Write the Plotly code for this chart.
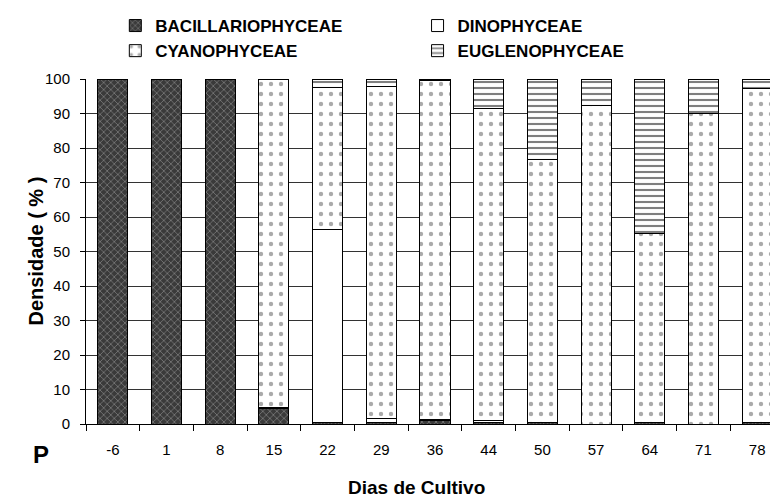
import plotly.graph_objects as go

# Dias de cultivo (eixo x)
dias = ["-6", "1", "8", "15", "22", "29", "36", "44", "50", "57", "64", "71", "78"]

# Densidade relativa (%) por classe
bacillariophyceae = [100, 100, 100, 4.5, 0.4, 0.3, 1.0, 0.3, 0.3, 0, 0.3, 0, 0.3]
dinophyceae = [0, 0, 0, 0.3, 55.9, 1.2, 0.2, 0.8, 0, 0, 0, 0, 0]
cyanophyceae = [0, 0, 0, 95.2, 41.3, 96.3, 98.3, 90.4, 76.4, 92.3, 54.8, 90.0, 97.0]
euglenophyceae = [0, 0, 0, 0, 2.4, 2.2, 0.5, 8.5, 23.3, 7.7, 44.9, 10.0, 2.7]

fonte = "Arial, Liberation Sans, sans-serif"
linha = dict(color="black", width=1)

fig = go.Figure()

fig.add_trace(go.Bar(
    name="BACILLARIOPHYCEAE", x=dias, y=bacillariophyceae,
    marker=dict(color="#3a3a3a", line=linha,
                pattern=dict(shape="x", fgcolor="#b5b5b5", bgcolor="#3a3a3a",
                             size=5, solidity=0.3)),
))
fig.add_trace(go.Bar(
    name="DINOPHYCEAE", x=dias, y=dinophyceae,
    marker=dict(color="white", line=linha),
))
fig.add_trace(go.Bar(
    name="CYANOPHYCEAE", x=dias, y=cyanophyceae,
    marker=dict(color="white", line=linha,
                pattern=dict(shape=".", fgcolor="#555", bgcolor="white",
                             size=10, solidity=0.15)),
))
fig.add_trace(go.Bar(
    name="EUGLENOPHYCEAE", x=dias, y=euglenophyceae,
    marker=dict(color="white", line=linha,
                pattern=dict(shape="-", fgcolor="black", bgcolor="white",
                             size=6, solidity=0.35)),
))

# a pagina tem margem de 8 px no body, por isso tudo vai 8 px para cima/esquerda
fig.update_layout(
    barmode="stack",
    bargap=0.44,
    width=778, height=499,
    margin=dict(l=78, r=2, t=71, b=83, autoexpand=False),
    paper_bgcolor="white",
    plot_bgcolor="white",
    font=dict(family=fonte, size=15, color="black"),
    legend=dict(
        orientation="h",
        x=0.042, y=1.0, xanchor="left", yanchor="top", yref="container",
        entrywidth=0.433, entrywidthmode="fraction",
        font=dict(size=17, weight="bold"),
        itemwidth=30,
        traceorder="normal",
        bgcolor="rgba(0,0,0,0)",
    ),
    showlegend=True,
)

fig.update_xaxes(
    type="category",
    range=[-0.5, 12.5],
    automargin=False,
    showline=True, linecolor="black", linewidth=1,
    ticks="outside", tickson="boundaries", ticklen=6, tickcolor="black",
    ticklabelstandoff=12,
    showgrid=False,
)
fig.update_yaxes(
    range=[0, 100], dtick=10,
    automargin=False,
    showline=True, linecolor="black", linewidth=1,
    ticks="outside", ticklen=5, tickcolor="black",
    ticklabelstandoff=7,
    showgrid=True, gridcolor="#333", gridwidth=1,
    zeroline=False,
)

# titulos dos eixos como anotacoes (posicao em papel)
fig.add_annotation(
    text="Dias de Cultivo", x=0.474, y=-0.183, xref="paper", yref="paper",
    xanchor="center", yanchor="middle", showarrow=False,
    font=dict(size=19, weight="bold"),
)
fig.add_annotation(
    text="Densidade ( % )", x=-0.073, y=0.5, xref="paper", yref="paper",
    xanchor="center", yanchor="middle", textangle=-90, showarrow=False,
    font=dict(size=20, weight="bold"),
)
fig.add_annotation(
    text="P", x=-0.0645, y=-0.087, xref="paper", yref="paper",
    xanchor="center", yanchor="middle", showarrow=False,
    font=dict(size=24, weight="bold"),
)

fig.write_html("out.html")
